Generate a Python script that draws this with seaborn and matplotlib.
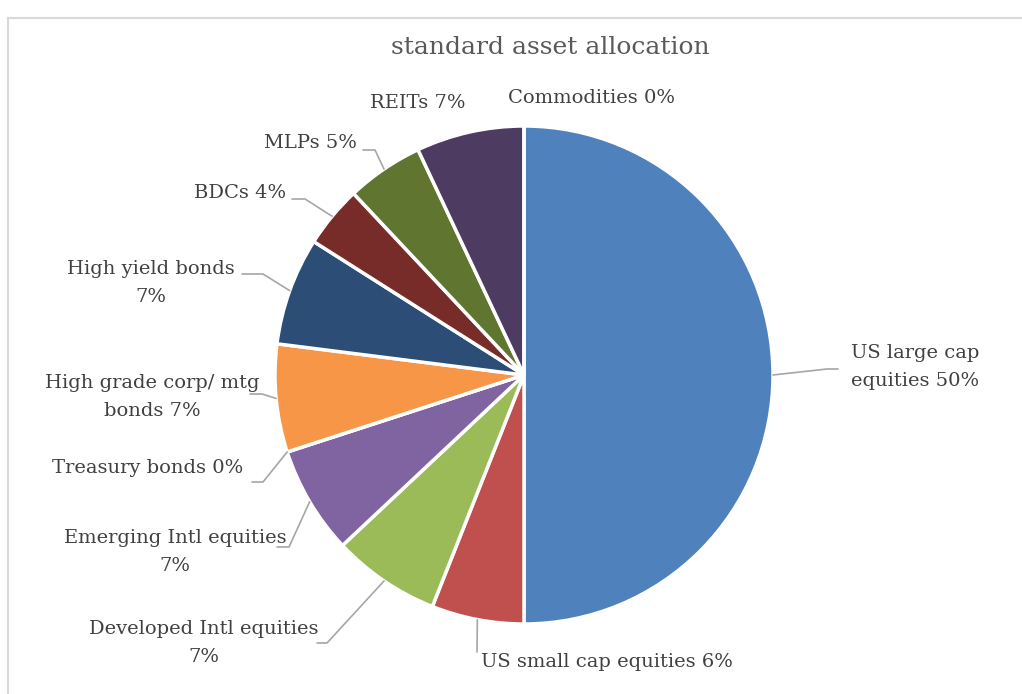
import numpy as np
import matplotlib
matplotlib.use("Agg")
import matplotlib.pyplot as plt
import seaborn as sns

# ---- data ----
categories = ["US large cap equities", "US small cap equities", "Developed Intl equities",
              "Emerging Intl equities", "Treasury bonds", "High grade corp/ mtg bonds",
              "High yield bonds", "BDCs", "MLPs", "REITs", "Commodities"]
values = [50, 6, 7, 7, 0, 7, 7, 4, 5, 7, 0]
label_texts = ["US large cap\nequities 50%", "US small cap equities 6%",
               "Developed Intl equities\n7%", "Emerging Intl equities\n7%",
               "Treasury bonds 0%", "High grade corp/ mtg\nbonds 7%",
               "High yield bonds\n7%", "BDCs 4%", "MLPs 5%", "REITs 7%", "Commodities 0%"]
colors = ["#4F81BD", "#C0504D", "#9BBB59", "#8064A2", "#4BACC6", "#F79646",
          "#2C4D75", "#772C2A", "#5F7530", "#4D3B62", "#276A7C"]
title = "standard asset allocation"

sns.set_theme(style="white")
plt.rcParams['font.family'] = ['DejaVu Serif']

W, H = 1022, 694
fig = plt.figure(figsize=(W / 100, H / 100), dpi=100)
fig.patch.set_facecolor("white")

# frame
fig.add_artist(plt.Line2D([8 / W, 8 / W], [0, 1 - 18 / H], color="#D9D9D9", lw=1.5,
                          transform=fig.transFigure))
fig.add_artist(plt.Line2D([8 / W, 1], [1 - 18 / H, 1 - 18 / H], color="#D9D9D9", lw=1.5,
                          transform=fig.transFigure))

# pie axes: centre (524,375) px, radius 249 px
cx, cy, R = 524, 375, 249
half = 260
ax = fig.add_axes([(cx - half) / W, (H - cy - half) / H, 2 * half / W, 2 * half / H])

wedges, _ = ax.pie(values, colors=colors, startangle=90, counterclock=False, radius=1,
                   wedgeprops=dict(edgecolor="white", linewidth=2.5))
ax.set_xlim(-half / R, half / R)
ax.set_ylim(-half / R, half / R)
ax.set_aspect("equal")
ax.axis("off")

def px(x, y):
    return ((x - cx) / R, (cy - y) / R)

# label layout (pixel positions) and leader routes
label_pos = [(915, 367), (607, 662), (204, 643), (175, 552), (148, 468), (152, 397),
             (151, 283), (240, 193), (310, 143), (418, 103), (592, 98)]
leader_route = [
    [(827, 369), (838, 369)],
    [(477, 652)],
    [(327, 643), (317, 643)],
    [(289, 547), (277, 547)],
    [(263, 482), (252, 482)],
    [(262, 394), (250, 394)],
    [(263, 274), (242, 274)],
    [(305, 199), (292, 199)],
    [(375, 150), (363, 150)],
    None,
    None,
]

total = sum(values)
cum = 0
for i, v in enumerate(values):
    mid = (cum + v / 2) / total
    cum += v
    ang = np.pi / 2 - 2 * np.pi * mid
    sx, sy = np.cos(ang), np.sin(ang)
    route = leader_route[i]
    if route:
        pts = [(sx, sy)] + [px(*p) for p in route]
        xs, ys = zip(*pts)
        ax.plot(xs, ys, color="#A6A6A6", lw=1.2, clip_on=False, zorder=1)
    lx, ly = px(*label_pos[i])
    ax.text(lx, ly, label_texts[i], ha="center", va="center", fontsize=14,
            color="#404040", linespacing=1.75, clip_on=False, zorder=3)

fig.text(550 / W, 1 - 48 / H, title, ha="center", va="center", fontsize=18, color="#595959")

fig.savefig("out.png", dpi=100, facecolor="white")
